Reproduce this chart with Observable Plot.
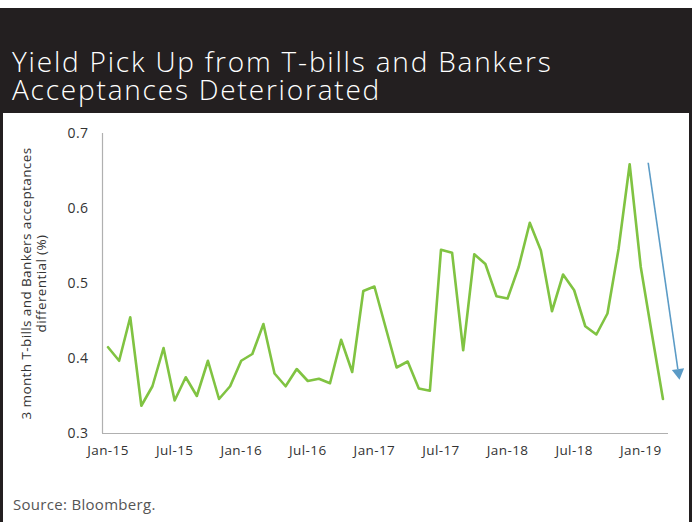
<!DOCTYPE html>
<html>
<head>
<meta charset="utf-8">
<script src="https://cdn.jsdelivr.net/npm/d3@7"></script>
<script src="https://cdn.jsdelivr.net/npm/@observablehq/plot@0.6"></script>
<style>
  html, body { margin: 0; padding: 0; background: #fff; }
  #page { position: relative; width: 696px; height: 522px; background: #fff; overflow: hidden; font-family: "Open Sans", Lato, sans-serif; }
  #header { position: absolute; left: 0; top: 8px; width: 692px; height: 105px; background: #231f20; }
  #title { position: absolute; left: 12px; top: 39px; color: #fff; font-family: "Open Sans", Lato, sans-serif; font-weight: 300; font-size: 28px; line-height: 28px; letter-spacing: 1.8px; white-space: nowrap; }
  #lb { position: absolute; left: 0; top: 8px; width: 3px; height: 514px; background: #231f20; }
  #rb { position: absolute; left: 689px; top: 8px; width: 3px; height: 514px; background: #231f20; }
  #chart { position: absolute; left: 3px; top: 113px; }
  #chart svg text { letter-spacing: 0.4px; }
  #source { position: absolute; left: 13px; top: 494px; font-size: 15px; letter-spacing: 0.3px; color: #555; font-family: "Open Sans", Lato, sans-serif; }
</style>
</head>
<body>
<div id="page">
  <div id="header"><div id="title">Yield Pick Up from T-bills and Bankers<br>Acceptances Deteriorated</div></div>
  <div id="lb"></div>
  <div id="rb"></div>
  <div id="chart"></div>
  <div id="source">Source: Bloomberg.</div>
</div>
<script>
const months = [
  "Jan-15","Feb-15","Mar-15","Apr-15","May-15","Jun-15","Jul-15","Aug-15","Sep-15","Oct-15","Nov-15","Dec-15",
  "Jan-16","Feb-16","Mar-16","Apr-16","May-16","Jun-16","Jul-16","Aug-16","Sep-16","Oct-16","Nov-16","Dec-16",
  "Jan-17","Feb-17","Mar-17","Apr-17","May-17","Jun-17","Jul-17","Aug-17","Sep-17","Oct-17","Nov-17","Dec-17",
  "Jan-18","Feb-18","Mar-18","Apr-18","May-18","Jun-18","Jul-18","Aug-18","Sep-18","Oct-18","Nov-18","Dec-18",
  "Jan-19","Feb-19","Mar-19"
];
const spread = [
  0.415,0.397,0.455,0.337,0.363,0.414,0.344,0.375,0.350,0.397,0.346,0.363,
  0.397,0.406,0.446,0.380,0.363,0.386,0.370,0.373,0.367,0.425,0.382,0.490,
  0.496,0.442,0.388,0.396,0.360,0.357,0.545,0.541,0.411,0.539,0.526,0.483,
  0.480,0.522,0.581,0.544,0.463,0.512,0.491,0.443,0.432,0.460,0.546,0.659,
  0.522,0.433,0.346
];
const tickLabels = ["Jan-15","Jul-15","Jan-16","Jul-16","Jan-17","Jul-17","Jan-18","Jul-18","Jan-19"];
const yTicks = [0.3, 0.4, 0.5, 0.6, 0.7];
const yLabel = "3 month T-bills and Bankers acceptances\ndifferential (%)";
const arrowShaft = [{x1: 48.67, y1: 0.661, x2: 51.34, y2: 0.386}];
const arrowHead = [{x: 51.40, y: 0.381}];

const data = months.map((m, i) => ({i, m, v: spread[i]}));

const chart = Plot.plot({
  width: 686,
  height: 370,
  marginLeft: 99,
  marginRight: 21,
  marginTop: 20,
  marginBottom: 50,
  x: {domain: [-0.5, months.length - 0.5]},
  y: {domain: [0.3, 0.7]},
  style: {fontFamily: "'Open Sans', Lato, sans-serif", background: "transparent", overflow: "visible"},
  marks: [
    Plot.ruleX([-0.5], {stroke: "#b0b0b0", strokeWidth: 1.2}),
    Plot.ruleY([0.3], {stroke: "#b0b0b0", strokeWidth: 1.2}),
    Plot.axisY({ticks: yTicks, tickSize: 0, tickPadding: 14, fontSize: 14, fill: "#333", tickFormat: d => d.toFixed(1), label: null}),
    Plot.axisX({ticks: tickLabels.map(t => months.indexOf(t)), tickFormat: i => months[i], tickSize: 0, tickPadding: 12, fontSize: 13.5, fill: "#333", label: null}),
    Plot.text([yLabel], {text: d => d, frameAnchor: "left", textAnchor: "middle", rotate: -90, dx: -69, lineHeight: 1.12, fontSize: 13.5, fill: "#333"}),
    Plot.line(data, {x: "i", y: "v", stroke: "#80c342", strokeWidth: 2.6}),
    Plot.link(arrowShaft, {x1: "x1", y1: "y1", x2: "x2", y2: "y2", stroke: "#5b9bc6", strokeWidth: 1.6}),
    Plot.dot(arrowHead, {x: "x", y: "y", symbol: "triangle", r: 4.6, fill: "#5b9bc6", stroke: "none", rotate: 171.8})
  ]
});
document.getElementById("chart").appendChild(chart);
</script>
</body>
</html>
